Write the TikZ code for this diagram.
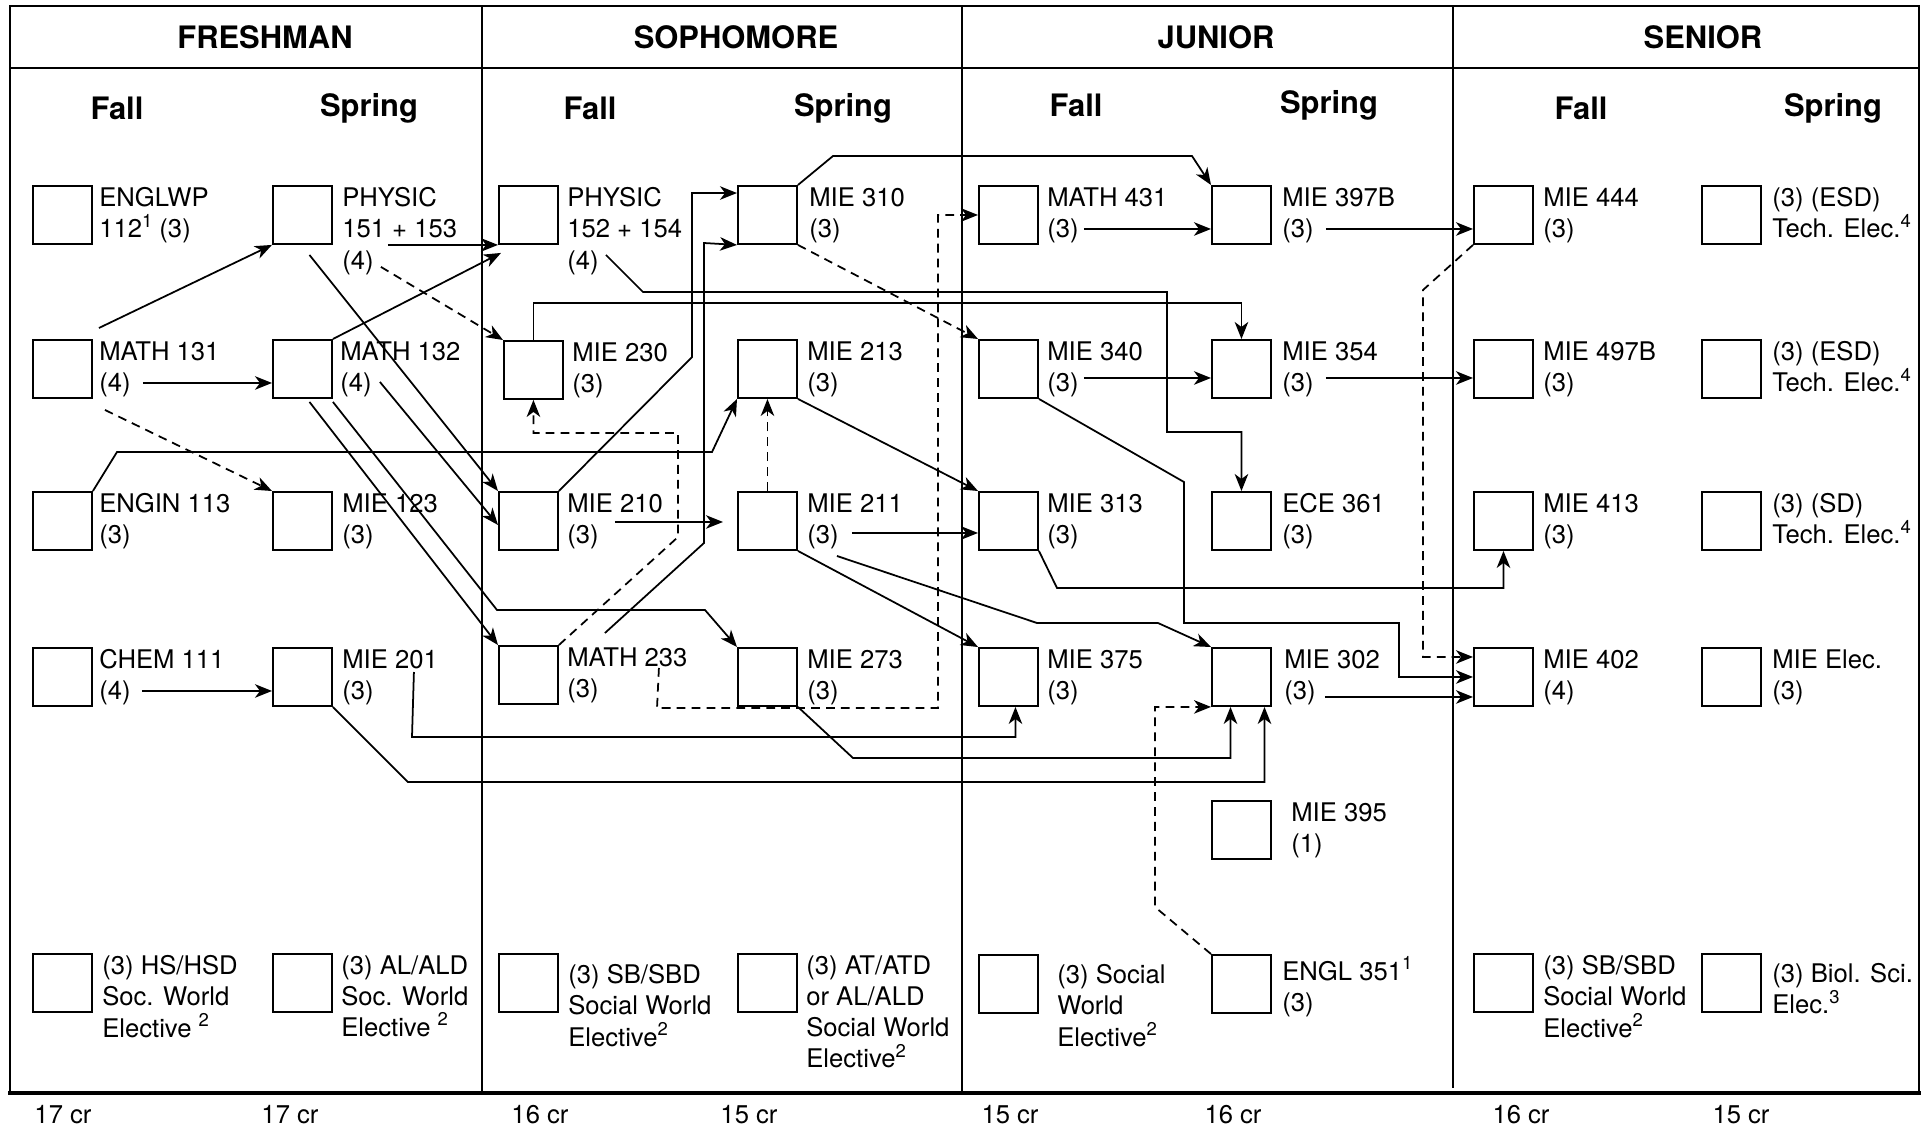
\documentclass[tikz,border=0pt]{standalone}
\usepackage{fontspec}
\setmainfont{TeX Gyre Heros}
\usepackage{tikz}
\usetikzlibrary{arrows.meta,calc}
\newcommand{\fnote}[1]{\raisebox{0.42em}{\fontsize{10.5}{10.5}\selectfont #1}}

\begin{document}
\begin{tikzpicture}[
    x=0.02cm, y=-0.02cm,
    crs/.style={draw, line width=1.1pt, minimum width=1.18cm, minimum height=1.16cm, inner sep=0pt, anchor=north west},
    field/.style={anchor=north west, align=left, inner sep=0pt, font=\fontsize{14.6}{17.8}\selectfont},
    cred/.style={inner sep=0pt, font=\fontsize{14.6}{17.8}\selectfont},
    hdr/.style={font=\fontsize{17.6}{20}\selectfont\bfseries},
    arrow/.style={-{Stealth[length=3.4mm,width=2.7mm,inset=1mm]}, line width=1pt},
    coreq/.style={arrow, dash pattern=on 5pt off 3.5pt},
  ]
    \useasboundingbox (0,0) rectangle (1929,1126);

    % ---- frame ----
    \draw[line width=1.2pt] (10,6) rectangle (1919,1093);
    \draw[line width=1.2pt] (10,68) -- (1919,68);
    \draw[line width=1.2pt] (482,6) -- (482,1093);
    \draw[line width=1.2pt] (962,6) -- (962,1093);
    \draw[line width=1.2pt] (1453,6) -- (1453,1088);
    \draw[line width=2pt] (8,1093) -- (1921,1093);

    % ---- years and terms ----
    \node[hdr] (fresh) at (265,37) {FRESHMAN};
    \node[hdr] (soph) at (736,37) {SOPHOMORE};
    \node[hdr] (jun) at (1216,37) {JUNIOR};
    \node[hdr] (sen) at (1703,37) {SENIOR};
    \node[hdr] (fall1) at (117,108) {Fall};
    \node[hdr] (spring1) at (369,108) {Spring};
    \node[hdr] (fall2) at (590,108) {Fall};
    \node[hdr] (spring2) at (843,108) {Spring};
    \node[hdr] (fall3) at (1076,105) {Fall};
    \node[hdr] (spring3) at (1329,105) {Spring};
    \node[hdr] (fall4) at (1581,108) {Fall};
    \node[hdr] (spring4) at (1833,108) {Spring};

    % ---- freshman fall ----
    \node[crs] (engl112) at (32,185) {};
    \node[field] (engl112t) at ($(engl112.north east)+(6,2)$) {ENGLWP\\112\fnote{1} (3)};
    \node[crs] (math131) at (32,339) {};
    \node[field] (math131t) at ($(math131.north east)+(6,2)$) {MATH 131\\(4)};
    \node[crs] (engin113) at (32,491) {};
    \node[field] (engin113t) at ($(engin113.north east)+(6,2)$) {ENGIN 113\\(3)};
    \node[crs] (chem111) at (32,647) {};
    \node[field] (chem111t) at ($(chem111.north east)+(6,2)$) {CHEM 111\\(4)};
    \node[crs] (hsd) at (32,953) {};
    \node[field] (hsdt) at ($(hsd.north east)+(9,2)$) {(3) HS/HSD\\Soc. World\\Elective \fnote{2}};

    % ---- freshman spring ----
    \node[crs] (phy151) at (272,185) {};
    \node[field] (phy151t) at ($(phy151.north east)+(9,2)$) {PHYSIC\\151 + 153\\(4)};
    \node[crs] (math132) at (272,339) {};
    \node[field] (math132t) at ($(math132.north east)+(7,2)$) {MATH 132\\(4)};
    \node[crs] (mie123) at (272,491) {};
    \node[field] (mie123t) at ($(mie123.north east)+(9,2)$) {MIE 123\\(3)};
    \node[crs] (mie201) at (272,647) {};
    \node[field] (mie201t) at ($(mie201.north east)+(9,2)$) {MIE 201\\(3)};
    \node[crs] (ald) at (272,953) {};
    \node[field] (aldt) at ($(ald.north east)+(8,2)$) {(3) AL/ALD\\Soc. World\\Elective \fnote{2}};

    % ---- sophomore fall ----
    \node[crs] (phy152) at (498,185) {};
    \node[field] (phy152t) at ($(phy152.north east)+(8,2)$) {PHYSIC\\152 + 154\\(4)};
    \node[crs] (mie230) at (503,340) {};
    \node[field] (mie230t) at ($(mie230.north east)+(8,2)$) {MIE 230\\(3)};
    \node[crs] (mie210) at (498,491) {};
    \node[field] (mie210t) at ($(mie210.north east)+(8,2)$) {MIE 210\\(3)};
    \node[crs] (math233) at (498,645) {};
    \node[field] (math233t) at ($(math233.north east)+(8,2)$) {MATH 233\\(3)};
    \node[crs] (sbd2) at (498,953) {};
    \node[field] (sbd2t) at ($(sbd2.north east)+(9,11)$) {(3) SB/SBD\\Social World\\Elective\fnote{2}};

    % ---- sophomore spring ----
    \node[crs] (mie310) at (737,185) {};
    \node[field] (mie310t) at ($(mie310.north east)+(11,2)$) {MIE 310\\(3)};
    \node[crs] (mie213) at (737,339) {};
    \node[field] (mie213t) at ($(mie213.north east)+(9,2)$) {MIE 213\\(3)};
    \node[crs] (mie211) at (737,491) {};
    \node[field] (mie211t) at ($(mie211.north east)+(9,2)$) {MIE 211\\(3)};
    \node[crs] (mie273) at (737,647) {};
    \node[field] (mie273t) at ($(mie273.north east)+(9,2)$) {MIE 273\\(3)};
    \node[crs] (atd) at (737,953) {};
    \node[field] (atdt) at ($(atd.north east)+(8,2)$) {(3) AT/ATD\\or AL/ALD\\Social World\\Elective\fnote{2}};

    % ---- junior fall ----
    \node[crs] (math431) at (978,185) {};
    \node[field] (math431t) at ($(math431.north east)+(8,2)$) {MATH 431\\(3)};
    \node[crs] (mie340) at (978,339) {};
    \node[field] (mie340t) at ($(mie340.north east)+(8,2)$) {MIE 340\\(3)};
    \node[crs] (mie313) at (978,491) {};
    \node[field] (mie313t) at ($(mie313.north east)+(8,2)$) {MIE 313\\(3)};
    \node[crs] (mie375) at (978,647) {};
    \node[field] (mie375t) at ($(mie375.north east)+(8,2)$) {MIE 375\\(3)};
    \node[crs] (swe3) at (978,954) {};
    \node[field] (swe3t) at ($(swe3.north east)+(18,10)$) {(3) Social\\World\\Elective\fnote{2}};

    % ---- junior spring ----
    \node[crs] (mie397) at (1211,185) {};
    \node[field] (mie397t) at ($(mie397.north east)+(10,2)$) {MIE 397B\\(3)};
    \node[crs] (mie354) at (1211,339) {};
    \node[field] (mie354t) at ($(mie354.north east)+(10,2)$) {MIE 354\\(3)};
    \node[crs] (ece361) at (1211,491) {};
    \node[field] (ece361t) at ($(ece361.north east)+(10,2)$) {ECE 361\\(3)};
    \node[crs] (mie302) at (1211,647) {};
    \node[field] (mie302t) at ($(mie302.north east)+(12,2)$) {MIE 302\\(3)};
    \node[crs] (mie395) at (1211,800) {};
    \node[field] (mie395t) at ($(mie395.north east)+(19,2)$) {MIE 395\\(1)};
    \node[crs] (engl351) at (1211,954) {};
    \node[field] (engl351t) at ($(engl351.north east)+(10,2)$) {ENGL 351\fnote{1}\\(3)};

    % ---- senior fall ----
    \node[crs] (mie444) at (1473,185) {};
    \node[field] (mie444t) at ($(mie444.north east)+(9,2)$) {MIE 444\\(3)};
    \node[crs] (mie497) at (1473,339) {};
    \node[field] (mie497t) at ($(mie497.north east)+(9,2)$) {MIE 497B\\(3)};
    \node[crs] (mie413) at (1473,491) {};
    \node[field] (mie413t) at ($(mie413.north east)+(9,2)$) {MIE 413\\(3)};
    \node[crs] (mie402) at (1473,647) {};
    \node[field] (mie402t) at ($(mie402.north east)+(9,2)$) {MIE 402\\(4)};
    \node[crs] (sbd4) at (1473,953) {};
    \node[field] (sbd4t) at ($(sbd4.north east)+(9,2)$) {(3) SB/SBD\\Social World\\Elective\fnote{2}};

    % ---- senior spring ----
    \node[crs] (esd1) at (1701,185) {};
    \node[field] (esd1t) at ($(esd1.north east)+(10,2)$) {(3) (ESD)\\Tech. Elec.\fnote{4}};
    \node[crs] (esd2) at (1701,339) {};
    \node[field] (esd2t) at ($(esd2.north east)+(10,2)$) {(3) (ESD)\\Tech. Elec.\fnote{4}};
    \node[crs] (sdel) at (1701,491) {};
    \node[field] (sdelt) at ($(sdel.north east)+(10,2)$) {(3) (SD)\\Tech. Elec.\fnote{4}};
    \node[crs] (mieel) at (1701,647) {};
    \node[field] (mieelt) at ($(mieel.north east)+(10,2)$) {MIE Elec.\\(3)};
    \node[crs] (biol) at (1701,953) {};
    \node[field] (biolt) at ($(biol.north east)+(10,10)$) {(3) Biol. Sci.\\Elec.\fnote{3}};

    % ---- credits ----
    \node[cred] (cr1) at (63,1115) {17 cr};
    \node[cred] (cr2) at (290,1115) {17 cr};
    \node[cred] (cr3) at (540,1115) {16 cr};
    \node[cred] (cr4) at (749,1115) {15 cr};
    \node[cred] (cr5) at (1010,1115) {15 cr};
    \node[cred] (cr6) at (1233,1115) {16 cr};
    \node[cred] (cr7) at (1521,1115) {16 cr};
    \node[cred] (cr8) at (1741,1115) {15 cr};

    % ---- arrows: freshman ----
    \draw[arrow] ($(math131.north east)+(6,-11)$) -- (phy151.south west);
    \draw[arrow] ($(math131.east)+(50,14)$) -- ($(math132.west)+(0,14)$);
    \draw[coreq] ($(math131.south east)+(12,11)$) -- (mie123.north west);
    \draw[arrow] ($(chem111.east)+(49,14)$) -- ($(mie201.west)+(0,14)$);
    \draw[arrow] (engin113.north east) -- (117,452) -- (712,452) -- (mie213.south west);
    \draw[arrow] ($(phy151.south east)+(55,0)$) -- (phy152.south west);
    \draw[arrow] (math132.north east) -- ($(phy152.south west)+(3,8)$);
    \draw[coreq] ($(phy151.south east)+(48,22)$) -- (mie230.north west);
    \draw[arrow] ($(phy151.south)+(7,10)$) -- (mie210.north west);
    \draw[arrow] ($(math132.east)+(47,13)$) -- ($(mie210.west)+(0,4)$);
    \draw[arrow] ($(math132.south)+(7,3)$) -- (math233.north west);
    \draw[arrow] ($(math132.south east)+(0,3)$) -- (497,610) -- (705,610) -- (mie273.north west);
    \draw[arrow] ($(mie201.north east)+(81,25)$) -- (412,737) -| ($(mie375.south)+(7,0)$);
    \draw[arrow] (mie201.south east) -- (408,782) -| ($(mie302.south)+(23,0)$);

    % ---- arrows: sophomore ----
    \draw[arrow] ($(phy152.south east)+(47,10)$) -- (643,292) -- (1167,292) -- (1167,432) -| (ece361.north);
    \draw[arrow] (mie230.north) -- ++(0,-37) -| (mie354.north);
    \draw[arrow] (mie210.north east) -- (692,357) -- (692,193) -- ($(mie310.north west)+(0,8)$);
    \draw[arrow] ($(math233.north east)+(46,-12)$) -- (704,543) -- (704,243) -- (mie310.south west);
    \draw[arrow] ($(mie210.east)+(56,1)$) -- ($(mie211.west)+(-14,1)$);
    \draw[coreq] (math233.north east) -- (678,537) -- (678,433) -| (mie230.south);
    \draw[coreq] ($(math233.east)+(100,-7)$) -- (657,708) -- (938,708) |- (math431.west);
    \draw[coreq] (mie211.north) -- (mie213.south);
    \draw[arrow] (mie310.north east) -- (833,156) -- (1192,156) -- (mie397.north west);
    \draw[coreq] (mie310.south east) -- (mie340.north west);
    \draw[arrow] (mie213.south east) -- (mie313.north west);
    \draw[arrow] ($(mie211.east)+(54,12)$) -- ($(mie313.west)+(0,12)$);
    \draw[arrow] (mie211.south east) -- (mie375.north west);
    \draw[arrow] ($(mie211.east)+(39,35)$) -- (1037,623) -- (1158,623) -- (mie302.north west);
    \draw[arrow] (mie273.south east) -- (853,758) -| ($(mie302.south)+(-11,0)$);

    % ---- arrows: junior ----
    \draw[arrow] ($(math431.east)+(45,14)$) -- ($(mie397.west)+(0,14)$);
    \draw[arrow] ($(mie340.east)+(45,9)$) -- ($(mie354.west)+(0,9)$);
    \draw[arrow] (mie340.south east) -- (1184,482) -- (1184,623) -- (1399,623) |- (mie402.west);
    \draw[arrow] (mie313.south east) -- (1057,588) -| (mie413.south);
    \draw[coreq] (engl351.north west) -- (1155,907) |- (mie302.south west);
    \draw[arrow] ($(mie397.east)+(54,14)$) -- ($(mie444.west)+(0,14)$);
    \draw[arrow] ($(mie354.east)+(54,9)$) -- ($(mie497.west)+(0,9)$);
    \draw[arrow] ($(mie302.east)+(53,20)$) -- ($(mie402.west)+(0,20)$);

    % ---- arrows: senior ----
    \draw[coreq] (mie444.south west) -- (1423,290) |- ($(mie402.west)+(0,-20)$);
  \end{tikzpicture}
\end{document}
